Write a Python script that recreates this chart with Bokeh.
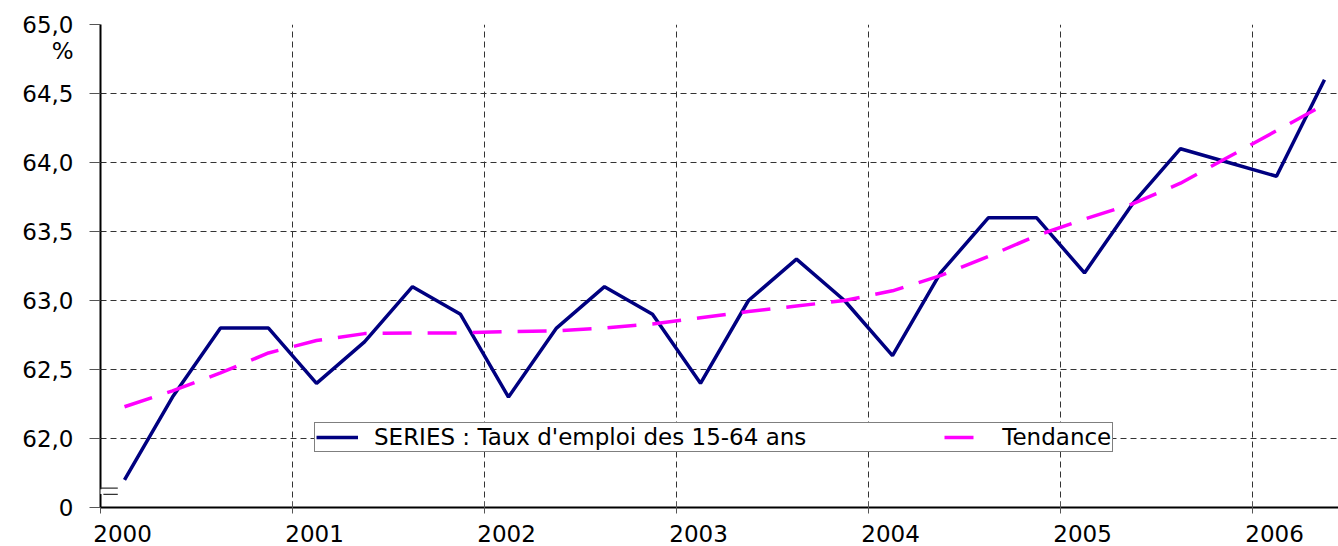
from bokeh.plotting import figure
from bokeh.models import (Range1d, FixedTicker, Legend, LegendItem, LinearAxis,
                          BoxAnnotation)
from bokeh.embed import file_html
from bokeh.resources import INLINE

# ---- data ----
years = [2000, 2000, 2000, 2000, 2001, 2001, 2001, 2001, 2002, 2002, 2002, 2002,
         2003, 2003, 2003, 2003, 2004, 2004, 2004, 2004, 2005, 2005, 2005, 2005,
         2006, 2006]
quarters = [1, 2, 3, 4, 1, 2, 3, 4, 1, 2, 3, 4, 1, 2, 3, 4, 1, 2, 3, 4, 1, 2, 3, 4, 1, 2]
series = [61.7, 62.3, 62.8, 62.8, 62.4, 62.7, 63.1, 62.9, 62.3, 62.8, 63.1, 62.9,
          62.4, 63.0, 63.3, 63.0, 62.6, 63.2, 63.6, 63.6, 63.2, 63.7, 64.1, 64.0,
          63.9, 64.6]
trend = [62.23, 62.345, 62.475, 62.62, 62.71, 62.76, 62.765, 62.765, 62.775, 62.78,
         62.80, 62.83, 62.875, 62.92, 62.96, 63.0, 63.07, 63.18, 63.32, 63.47,
         63.59, 63.70, 63.85, 64.04, 64.23, 64.42]
year_ticks = [2000, 2001, 2002, 2003, 2004, 2005, 2006]
year_labels = ["2000", "2001", "2002", "2003", "2004", "2005", "2006"]
y_ticks = [61.5, 62.0, 62.5, 63.0, 63.5, 64.0, 64.5, 65.0]
y_tick_labels = ["0", "62,0", "62,5", "63,0", "63,5", "64,0", "64,5", "65,0"]
series_name = "SERIES : Taux d'emploi des 15-64 ans"
trend_name = "Tendance"
unit = "%"

x = [y + (q - 0.5) / 4 for y, q in zip(years, quarters)]

FONT = "DejaVu Sans"
FS = "23px"
LABEL_SHIFT = 0.115      # year labels sit a little right of the year tick
UNIT_POS = 64.81         # vertical position of the "%" unit text

p = figure(width=1338, height=546, output_backend="svg", toolbar_location=None,
           x_range=Range1d(2000, 2006.448), y_range=Range1d(61.5, 65.0),
           min_border_left=100, min_border_right=0, min_border_top=24,
           min_border_bottom=39)
p.outline_line_color = None
p.background_fill_color = "white"

# primary axes: lines and tick marks only
p.xaxis.ticker = FixedTicker(ticks=year_ticks)
p.xaxis.major_label_overrides = {t: "" for t in year_ticks}
p.yaxis.ticker = FixedTicker(ticks=y_ticks)
p.yaxis.major_label_overrides = {t: "" for t in y_ticks}
for ax in (p.xaxis, p.yaxis):
    ax.axis_line_color = "black"
    ax.axis_line_width = 2
    ax.major_tick_line_color = "#555555"
    ax.major_tick_line_width = 1
    ax.minor_tick_line_color = None
    ax.major_label_standoff = 0
    ax.major_label_text_font_size = "1px"
p.xaxis.major_tick_in = 6
p.xaxis.major_tick_out = 6
p.yaxis.major_tick_in = 0
p.yaxis.major_tick_out = 11

# label-only axes
lab_y_ticks = y_ticks + [UNIT_POS]
lab_y = LinearAxis(ticker=FixedTicker(ticks=lab_y_ticks),
                   major_label_overrides={**{t: l for t, l in zip(y_ticks, y_tick_labels)},
                                          UNIT_POS: unit},
                   axis_line_color=None, major_tick_line_color=None,
                   minor_tick_line_color=None, major_tick_in=0, major_tick_out=0,
                   major_label_standoff=16, major_label_text_font=FONT,
                   major_label_text_font_size=FS, major_label_text_color="black")
p.add_layout(lab_y, "left")

lab_x_ticks = [t + LABEL_SHIFT for t in year_ticks]
lab_x = LinearAxis(ticker=FixedTicker(ticks=lab_x_ticks),
                   major_label_overrides={t: l for t, l in zip(lab_x_ticks, year_labels)},
                   axis_line_color=None, major_tick_line_color=None,
                   minor_tick_line_color=None, major_tick_in=0, major_tick_out=0,
                   major_label_standoff=11, major_label_text_font=FONT,
                   major_label_text_font_size=FS, major_label_text_color="black")
p.add_layout(lab_x, "below")

# grids
p.xgrid.ticker = FixedTicker(ticks=year_ticks[1:])
p.ygrid.ticker = FixedTicker(ticks=y_ticks[1:])
for g in (p.xgrid, p.ygrid):
    g.grid_line_color = "#333333"
    g.grid_line_dash = "6 4"
    g.grid_line_width = 1

r_series = p.line(x, series, line_color="#000080", line_width=3.5)
r_trend = p.line(x, trend, line_color="#FF00FF", line_width=3.5, line_dash="29 16")

legend = Legend(items=[LegendItem(label=series_name, renderers=[r_series]),
                       LegendItem(label=trend_name, renderers=[r_trend])],
                orientation="horizontal", location=(214, 55),
                label_text_font=FONT, label_text_font_size=FS,
                label_text_color="black",
                border_line_color="black", border_line_width=1,
                background_fill_color="white", background_fill_alpha=1,
                padding=1, margin=0, spacing=138, glyph_width=42,
                glyph_height=20, label_height=20, label_standoff=16)
p.add_layout(legend, "center")

# axis break marks
p.add_layout(BoxAnnotation(left=1999.9, right=2000.09, bottom=61.635, top=61.645,
                           fill_color="#333333", fill_alpha=1, line_color=None))
p.add_layout(BoxAnnotation(left=1999.985, right=2000.015, bottom=61.598, top=61.632,
                           fill_color="white", fill_alpha=1, line_color=None))
p.add_layout(BoxAnnotation(left=2000.015, right=2000.09, bottom=61.59, top=61.6,
                           fill_color="#333333", fill_alpha=1, line_color=None))

open("out.html", "w").write(file_html(p, INLINE))
